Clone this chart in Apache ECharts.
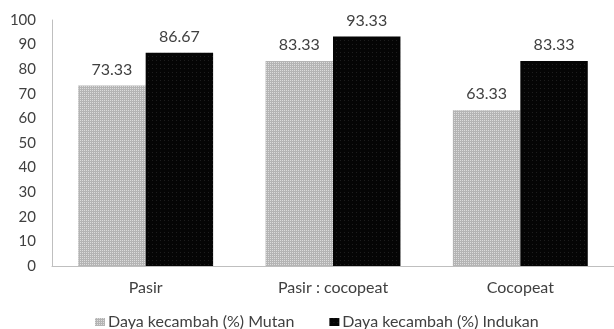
<!DOCTYPE html>
<html>
<head>
<meta charset="utf-8">
<script src="https://cdn.jsdelivr.net/npm/echarts@6/dist/echarts.min.js"></script>
<style>
html,body{margin:0;padding:0;background:#fff;}
#c{width:614px;height:329px;}
</style>
</head>
<body>
<div id="c"></div>
<script>
const categories = ['Pasir', 'Pasir : cocopeat', 'Cocopeat'];
const seriesNames = ['Daya kecambah (%) Mutan', 'Daya kecambah (%) Indukan'];
const mutan = [73.33, 83.33, 63.33];
const indukan = [86.67, 93.33, 83.33];
const yTicks = [0, 10, 20, 30, 40, 50, 60, 70, 80, 90, 100];

const font = 'Lato, "Open Sans", sans-serif';
const chart = echarts.init(document.getElementById('c'), null, {renderer: 'canvas'});
chart.setOption({
  animation: false,
  backgroundColor: '#fff',
  grid: {left: 52, top: 20, width: 566, height: 246, containLabel: false},
  legend: {
    top: 309,
    left: 90,
    itemWidth: 10,
    itemHeight: 8,
    itemGap: 35,
    icon: 'rect',
    textStyle: {fontFamily: font, fontSize: 16, color: '#404040', padding: [0, 0, 0, -2]},
    data: seriesNames
  },
  xAxis: {
    type: 'category',
    data: categories,
    axisLine: {lineStyle: {color: '#bfbfbf', width: 1}},
    axisTick: {show: false},
    axisLabel: {fontFamily: font, fontSize: 16, color: '#404040', margin: 14}
  },
  yAxis: {
    type: 'value',
    min: yTicks[0],
    max: yTicks[yTicks.length - 1],
    interval: 10,
    axisLine: {show: true, lineStyle: {color: '#bfbfbf', width: 1}},
    axisTick: {show: false},
    splitLine: {show: false},
    axisLabel: {fontFamily: font, fontSize: 15, color: '#404040', margin: 16}
  },
  series: [
    {
      name: seriesNames[0],
      type: 'bar',
      data: mutan,
      barGap: '0%',
      barCategoryGap: '28%',
      itemStyle: {
        color: '#b4b4b4',
        decal: {symbol: 'rect', symbolSize: 1, dashArrayX: [1, 1], dashArrayY: [1, 1], color: 'rgba(230,230,230,0.8)', rotation: 0}
      },
      label: {show: true, position: 'top', distance: 8, fontFamily: font, fontSize: 16, color: '#404040', formatter: p => p.value.toFixed(2)}
    },
    {
      name: seriesNames[1],
      type: 'bar',
      data: indukan,
      barGap: '0%',
      barCategoryGap: '28%',
      itemStyle: {
        color: '#050505',
        decal: {symbol: 'rect', symbolSize: 0.5, dashArrayX: [1, 3], dashArrayY: [1, 3], color: 'rgba(120,120,120,0.9)', rotation: 0}
      },
      label: {show: true, position: 'top', distance: 8, fontFamily: font, fontSize: 16, color: '#404040', formatter: p => p.value.toFixed(2)}
    }
  ]
});
</script>
</body>
</html>
